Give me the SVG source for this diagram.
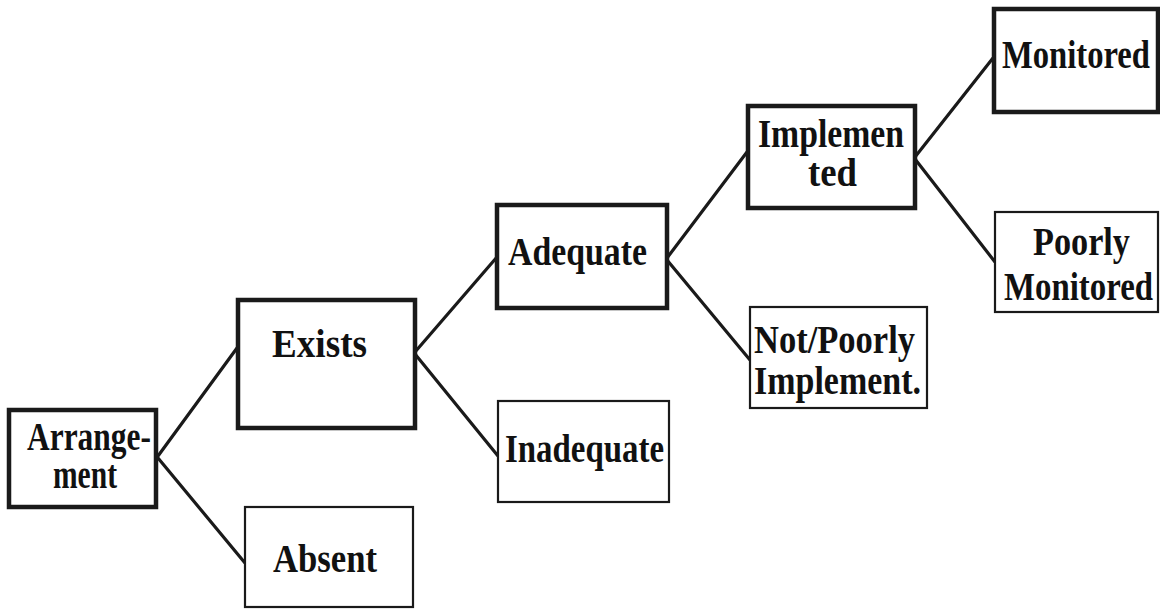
<svg xmlns="http://www.w3.org/2000/svg" width="1160" height="609" viewBox="0 0 1160 609">
  <style>
    .box { fill: #ffffff; stroke: #1a1a1a; }
    .thick { stroke-width: 4.5; }
    .thin { stroke-width: 2.2; }
    .lbl { font-family: "Liberation Serif", "Times New Roman", serif; font-weight: bold; font-size: 41px; fill: #111111; }
    .link { stroke: #1a1a1a; stroke-width: 3.2; fill: none; stroke-linecap: round; }
  </style>
  <rect width="1160" height="609" fill="#ffffff"/>

  <!-- connectors of the decision tree -->
  <g id="connectors">
    <line class="link" x1="158" y1="456" x2="237" y2="348"/>
    <line class="link" x1="158" y1="458" x2="245" y2="563"/>
    <line class="link" x1="415" y1="352" x2="497" y2="257"/>
    <line class="link" x1="415" y1="354" x2="498" y2="456"/>
    <line class="link" x1="667" y1="258" x2="747" y2="152"/>
    <line class="link" x1="667" y1="260" x2="750" y2="360"/>
    <line class="link" x1="915" y1="157" x2="993" y2="58"/>
    <line class="link" x1="915" y1="159" x2="995" y2="262"/>
  </g>

  <g id="arrangement">
    <rect class="box thick" x="9" y="410" width="147" height="97"/>
    <text class="lbl" x="27" y="450" textLength="124" lengthAdjust="spacingAndGlyphs">Arrange-</text>
    <text class="lbl" x="53" y="488" textLength="64" lengthAdjust="spacingAndGlyphs">ment</text>
  </g>

  <g id="exists">
    <rect class="box thick" x="238" y="300" width="177" height="128"/>
    <text class="lbl" x="272" y="357" textLength="95" lengthAdjust="spacingAndGlyphs">Exists</text>
  </g>

  <g id="absent">
    <rect class="box thin" x="245" y="507" width="168" height="100"/>
    <text class="lbl" x="273" y="572" textLength="104" lengthAdjust="spacingAndGlyphs">Absent</text>
  </g>

  <g id="adequate">
    <rect class="box thick" x="497" y="205" width="170" height="103"/>
    <text class="lbl" x="508" y="265" textLength="139" lengthAdjust="spacingAndGlyphs">Adequate</text>
  </g>

  <g id="inadequate">
    <rect class="box thin" x="498" y="401" width="171" height="101"/>
    <text class="lbl" x="505" y="462" textLength="159" lengthAdjust="spacingAndGlyphs">Inadequate</text>
  </g>

  <g id="implemented">
    <rect class="box thick" x="748" y="106" width="167" height="102"/>
    <text class="lbl" x="758" y="147" textLength="146" lengthAdjust="spacingAndGlyphs">Implemen</text>
    <text class="lbl" x="808" y="186" textLength="49" lengthAdjust="spacingAndGlyphs">ted</text>
  </g>

  <g id="not-poorly-implemented">
    <rect class="box thin" x="750" y="307" width="177" height="101"/>
    <text class="lbl" x="754" y="353" textLength="161" lengthAdjust="spacingAndGlyphs">Not/Poorly</text>
    <text class="lbl" x="754" y="394" textLength="167" lengthAdjust="spacingAndGlyphs">Implement.</text>
  </g>

  <g id="monitored">
    <rect class="box thick" x="994" y="9" width="164" height="103"/>
    <text class="lbl" x="1002" y="68" textLength="148" lengthAdjust="spacingAndGlyphs">Monitored</text>
  </g>

  <g id="poorly-monitored">
    <rect class="box thin" x="995" y="212" width="163" height="100"/>
    <text class="lbl" x="1033" y="255" textLength="97" lengthAdjust="spacingAndGlyphs">Poorly</text>
    <text class="lbl" x="1004" y="300" textLength="149" lengthAdjust="spacingAndGlyphs">Monitored</text>
  </g>
</svg>
